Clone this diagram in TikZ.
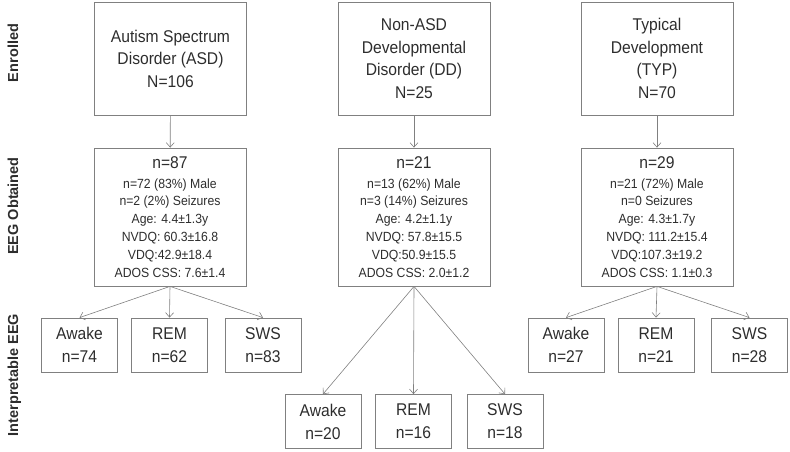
\documentclass[tikz,border=0pt]{standalone}
\usepackage{fontspec}
\setmainfont{Liberation Sans}[FakeStretch=0.92]
\newfontfamily\sidefont{Liberation Sans}
\usetikzlibrary{arrows.meta}
\definecolor{linegray}{RGB}{128,128,128}
\definecolor{txt}{RGB}{45,45,45}
\begin{document}
\begin{tikzpicture}[x=1pt,y=-1pt,
  box/.style={draw=linegray, line width=0.8pt, inner sep=0pt, align=center, text=txt},
  topbox/.style={box, minimum width=152pt, minimum height=113pt, font=\fontsize{17}{22.5}\selectfont},
  midbox/.style={box, minimum width=152pt, minimum height=138pt, font=\fontsize{13.3}{17.8}\selectfont},
  leafbox/.style={box, minimum width=76pt, minimum height=54pt, font=\fontsize{17}{23}\selectfont},
  arr/.style={draw=linegray, line width=0.6pt, -{Straight Barb[length=4.5pt,width=8pt]}},
  side/.style={rotate=90, inner sep=0pt, anchor=base, text=txt, font=\sidefont\bfseries\fontsize{14.5}{16}\selectfont}]
\useasboundingbox (0,0) rectangle (790,451);

% row labels
\node[side] (lenr) at (18,53) {Enrolled};
\node[side] (leeg) at (18,206) {EEG Obtained};
\node[side] (lint) at (18,375) {Interpretable EEG};

% top row
\node[topbox] (asdT) at (170.5,58.5) {Autism Spectrum\\Disorder (ASD)\\N=106};
\node[topbox] (ddT)  at (414,58.5) {Non-ASD\\Developmental\\Disorder (DD)\\N=25};
\node[topbox] (typT) at (657,58.5) {Typical\\Development\\(TYP)\\N=70};

% middle row
\node[midbox] (asdM) at (170,217) {{\fontsize{17}{20}\selectfont n=87}\\[1.5pt]
  n=72 (83\%) Male\\n=2 (2\%) Seizures\\Age: 4.4±1.3y\\NVDQ: 60.3±16.8\\VDQ:42.9±18.4\\ADOS CSS: 7.6±1.4};
\node[midbox] (ddM) at (414,217) {{\fontsize{17}{20}\selectfont n=21}\\[1.5pt]
  n=13 (62\%) Male\\n=3 (14\%) Seizures\\Age: 4.2±1.1y\\NVDQ: 57.8±15.5\\VDQ:50.9±15.5\\ADOS CSS: 2.0±1.2};
\node[midbox] (typM) at (657,217) {{\fontsize{17}{20}\selectfont n=29}\\[1.5pt]
  n=21 (72\%) Male\\n=0 Seizures\\Age: 4.3±1.7y\\NVDQ: 111.2±15.4\\VDQ:107.3±19.2\\ADOS CSS: 1.1±0.3};

% bottom rows
\node[leafbox] (asdA) at (79.5,345) {Awake\\n=74};
\node[leafbox] (asdR) at (169.5,345) {REM\\n=62};
\node[leafbox] (asdS) at (263,345) {SWS\\n=83};

\node[leafbox] (ddA) at (323,421.5) {Awake\\n=20};
\node[leafbox] (ddR) at (413.5,421.5) {REM\\n=16};
\node[leafbox] (ddS) at (505,421.5) {SWS\\n=18};

\node[leafbox] (typA) at (566,345) {Awake\\n=27};
\node[leafbox] (typR) at (656,345) {REM\\n=21};
\node[leafbox] (typS) at (749.5,345) {SWS\\n=28};

% connectors
\draw[arr] (asdT) -- (asdM);
\draw[arr] (ddT) -- (ddM);
\draw[arr] (typT) -- (typM);
\foreach \g in {asd,dd,typ}{
  \foreach \s in {A,R,S}{
    \draw[arr] (\g M.south) -- (\g\s.north);
  }
}
\end{tikzpicture}
\end{document}
